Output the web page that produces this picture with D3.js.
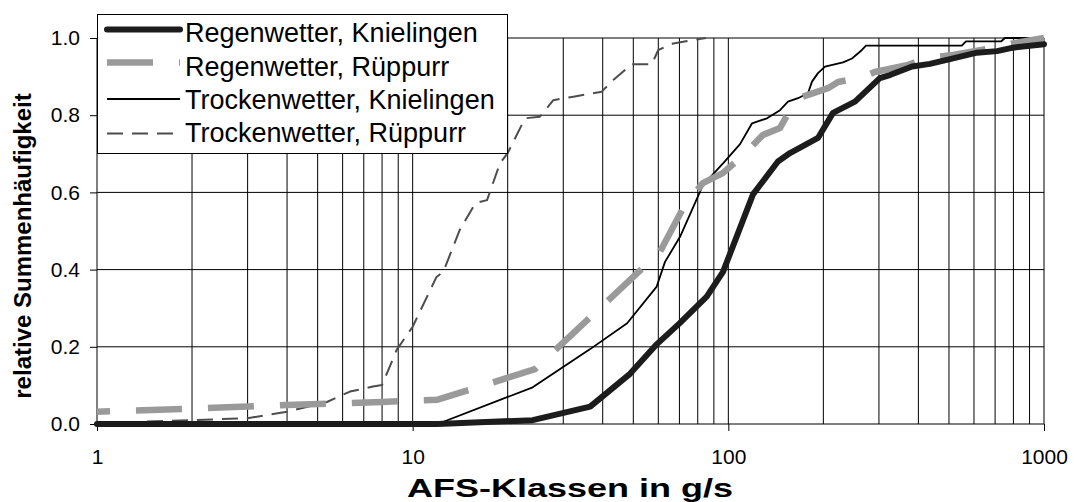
<!DOCTYPE html>
<html>
<head>
<meta charset="utf-8">
<script src="https://cdn.jsdelivr.net/npm/d3@7"></script>
<style>
  body { margin: 0; background: #fff; }
  svg { display: block; }
  text { font-family: "Liberation Sans", Arial, sans-serif; fill: #000; }
</style>
</head>
<body>
<svg id="chart" width="1074" height="502"></svg>
<script>
// Cumulative frequency curves: [AFS class in g/s, relative cumulative frequency]
const regenKnielingen = [
  [1, 0], [12, 0], [24, 0.01], [36.5, 0.045], [48.8, 0.13], [59.4, 0.207],
  [70.3, 0.262], [85.4, 0.33], [96.2, 0.394], [119.7, 0.595], [143.6, 0.68],
  [156.8, 0.702], [192.3, 0.741], [214.6, 0.806], [251.9, 0.835], [302, 0.896],
  [325, 0.904], [382, 0.926], [435, 0.933], [519, 0.948], [613, 0.962],
  [710, 0.966], [798, 0.975], [1000, 0.984]
];
const regenRueppurr = [
  [1, 0.032], [2, 0.04], [4, 0.049], [8, 0.057], [12, 0.063], [24.4, 0.142],
  [60.7, 0.446], [72, 0.56], [83, 0.624], [96, 0.65], [109, 0.689],
  [128.8, 0.749], [145.8, 0.767], [156.8, 0.813], [171, 0.847], [207, 0.87],
  [222.6, 0.886], [267, 0.899], [291, 0.912], [371, 0.93], [420, 0.948],
  [515, 0.956], [660, 0.972], [809, 0.987], [1000, 1.0]
];
const trockenKnielingen = [
  [1, 0], [12, 0], [24, 0.095], [36.5, 0.194], [47.8, 0.261], [59.3, 0.356],
  [63, 0.42], [70.3, 0.485], [83.1, 0.619], [96.2, 0.675], [108.9, 0.725],
  [118.9, 0.779], [132.6, 0.792], [145.8, 0.813], [154.5, 0.835], [166.2, 0.844],
  [178.8, 0.857], [184.1, 0.887], [192.3, 0.909], [202.4, 0.926], [230.8, 0.937],
  [246.5, 0.947], [265, 0.969], [273, 0.98], [549, 0.98], [566, 0.991],
  [731, 0.991], [752, 1.0], [1000, 1.0]
];
const trockenRueppurr = [
  [1, 0.002], [2, 0.01], [3, 0.015], [4, 0.032], [5.35, 0.057], [6.33, 0.084],
  [7.49, 0.097], [8, 0.101], [8.9, 0.192], [10, 0.252], [11.9, 0.381],
  [12.5, 0.394], [14.1, 0.503], [15.8, 0.572], [17.2, 0.58], [18.9, 0.675],
  [20, 0.702], [22.7, 0.792], [25.3, 0.796], [27.9, 0.839], [32.3, 0.848],
  [39.7, 0.861], [43.2, 0.891], [49.4, 0.932], [57.2, 0.932], [60, 0.969],
  [66.9, 0.986], [77.3, 0.995], [85, 1.0]
];

const seriesNames = [
  "Regenwetter, Knielingen",
  "Regenwetter, Rüppurr",
  "Trockenwetter, Knielingen",
  "Trockenwetter, Rüppurr"
];
const xTickValues = [1, 10, 100, 1000];
const yTickValues = [0, 0.2, 0.4, 0.6, 0.8, 1.0];
const xTitle = "AFS-Klassen in g/s";
const yTitle = "relative Summenhäufigkeit";

// Line styles per series (same order as seriesNames)
const styles = [
  { color: "#1c1c1c", width: 6, dash: null, cap: "round" },
  { color: "#9a9a9a", width: 6.5, dash: "46,26", cap: "butt", offset: 33 },
  { color: "#000000", width: 1.8, dash: null, cap: "butt" },
  { color: "#4d4d4d", width: 2, dash: "16,9", cap: "butt" }
];
const seriesData = [regenKnielingen, regenRueppurr, trockenKnielingen, trockenRueppurr];

const svg = d3.select("#chart");
const margin = { left: 97, right: 1044, top: 38, bottom: 424 };

const x = d3.scaleLog().domain([1, 1000]).range([margin.left, margin.right]);
const y = d3.scaleLinear().domain([0, 1]).range([margin.bottom, margin.top]);

// Grid: every integer step within each decade
const xGrid = [];
for (let d = 1; d < 1000; d *= 10) for (let k = 1; k <= 9; k++) xGrid.push(d * k);
xGrid.push(1000);

const grid = svg.append("g");
grid.selectAll("line.v").data(xGrid.slice(1)).join("line")
  .attr("x1", d => x(d)).attr("x2", d => x(d))
  .attr("y1", y(0)).attr("y2", y(1))
  .attr("stroke", "#000").attr("stroke-width", 1);
grid.selectAll("line.h").data(yTickValues.slice(1)).join("line")
  .attr("x1", x(1)).attr("x2", x(1000))
  .attr("y1", d => y(d)).attr("y2", d => y(d))
  .attr("stroke", "#000").attr("stroke-width", 1);

// Axes
const yAxis = d3.axisLeft(y).tickValues(yTickValues).tickFormat(d3.format(".1f"))
  .tickSize(7).tickPadding(10);
const xAxis = d3.axisBottom(x).tickValues(xTickValues).tickFormat(d3.format("d"))
  .tickSize(7).tickPadding(18);

const gy = svg.append("g").attr("transform", `translate(${x(1)},0)`).call(yAxis);
const gx = svg.append("g").attr("transform", `translate(0,${y(0)})`).call(xAxis);
[gx, gy].forEach(g => {
  g.select(".domain").attr("stroke", "#000").attr("stroke-width", 1);
  g.selectAll(".tick line").attr("stroke", "#000");
  g.selectAll(".tick text").style("font-size", "21px")
    .style("font-family", '"Liberation Sans", Arial, sans-serif').attr("fill", "#000");
});
gy.select(".domain").attr("d", `M0,${y(0)}V${y(1)}`);
gx.select(".domain").attr("d", `M${x(1)},0H${x(1000)}`);

// Curves
const line = d3.line().x(d => x(d[0])).y(d => y(d[1]));
const curves = svg.append("g");
[3, 2, 1, 0].forEach(i => {
  const s = styles[i];
  curves.append("path")
    .datum(seriesData[i])
    .attr("d", line)
    .attr("fill", "none")
    .attr("stroke", s.color)
    .attr("stroke-width", s.width)
    .attr("stroke-linejoin", "round")
    .attr("stroke-linecap", s.cap)
    .attr("stroke-dasharray", s.dash)
    .attr("stroke-dashoffset", s.offset || 0);
});

// Legend
const legend = svg.append("g");
legend.append("rect")
  .attr("x", 97.5).attr("y", 14.5).attr("width", 410).attr("height", 139)
  .attr("fill", "#fff").attr("stroke", "#000").attr("stroke-width", 1);
const rowLineY = [29.5, 62.5, 99, 133.5];
const rowTextY = [42, 76, 109, 142];
seriesNames.forEach((name, i) => {
  const s = styles[i];
  legend.append("line")
    .attr("x1", 107).attr("x2", 180)
    .attr("y1", rowLineY[i]).attr("y2", rowLineY[i])
    .attr("stroke", s.color).attr("stroke-width", s.width)
    .attr("stroke-linecap", s.cap)
    .attr("stroke-dasharray", s.dash);
  legend.append("text")
    .attr("x", 185).attr("y", rowTextY[i])
    .style("font-size", "27px")
    .text(name);
});

// Axis titles
svg.append("text")
  .attr("x", 570).attr("y", 497)
  .attr("text-anchor", "middle")
  .attr("textLength", 326).attr("lengthAdjust", "spacingAndGlyphs")
  .style("font-size", "26px").style("font-weight", "bold")
  .text(xTitle);
svg.append("text")
  .attr("transform", `translate(31,246) rotate(-90)`)
  .attr("text-anchor", "middle")
  .style("font-size", "24px").style("font-weight", "bold")
  .text(yTitle);
</script>
</body>
</html>
